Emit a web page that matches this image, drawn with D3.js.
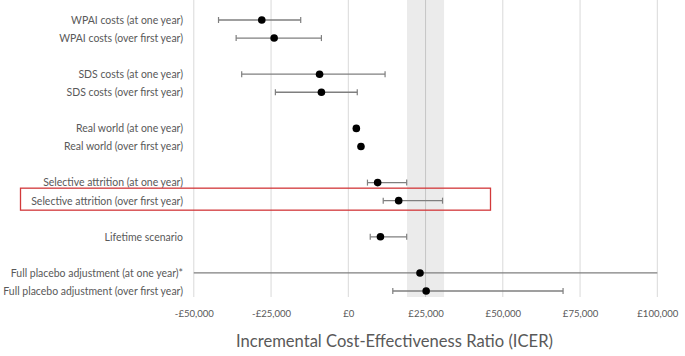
<!DOCTYPE html>
<html><head><meta charset="utf-8">
<script src="https://cdn.jsdelivr.net/npm/d3@7"></script>
<style>html,body{margin:0;padding:0;background:#fff;}svg{display:block;}</style>
</head><body>
<svg id="c" width="685" height="356"></svg>
<script>
// ---- data ----
const categories = [
  "WPAI costs (at one year)", "WPAI costs (over first year)",
  "SDS costs (at one year)", "SDS costs (over first year)",
  "Real world (at one year)", "Real world (over first year)",
  "Selective attrition (at one year)", "Selective attrition (over first year)",
  "Lifetime scenario",
  "Full placebo adjustment (at one year)*", "Full placebo adjustment (over first year)"
];
const groupSizes = [2, 2, 2, 2, 1, 2];
const icer  = [-28000, -24000, -9300, -8700, 2600, 4100, 9500, 16300, 10400, 23200, 25200];
const lower = [-42000, -36300, -34500, -23600, 1900, 3500, 6200, 11300, 7100, -60000, 14400];
const upper = [-15400, -8700, 11900, 2900, 3300, 4700, 18900, 30500, 18900, 110000, 69500];
const xTicks = [-50000, -25000, 0, 25000, 50000, 75000, 100000];
const thresholdBand = [19000, 31000];
const highlighted = "Selective attrition (over first year)";
const axisTitle = "Incremental Cost-Effectiveness Ratio (ICER)";

// ---- layout ----
const svg = d3.select("#c");
const FONT = "Lato, 'Open Sans', sans-serif";
const textColor = "#595959";

// build slot domain with gaps between groups
const slots = [];
let k = 0;
groupSizes.forEach((n, gi) => {
  for (let i = 0; i < n; i++) slots.push(categories[k++]);
  if (gi < groupSizes.length - 1) slots.push("gap" + gi);
});

const x = d3.scaleLinear().domain([-50000, 100000]).range([193.8, 657.3]);
const y = d3.scalePoint().domain(slots).range([20, 291]);
const plotTop = 0, plotBottom = 297;

function fitSize(str, target, base) {
  const t = svg.append("text").attr("font-family", FONT).attr("font-size", base).text(str);
  const w = t.node().getComputedTextLength();
  t.remove();
  return base * target / w;
}
const labelSize = fitSize("WPAI costs (at one year)", 112, 12);
const tickSize = fitSize("-£50,000", 39, 11);
const titleSize = fitSize(axisTitle, 317, 18);

svg.append("defs").append("clipPath").attr("id", "clip")
  .append("rect").attr("x", x(-50000)).attr("y", 0).attr("width", x(100000) - x(-50000)).attr("height", 356);

// band
svg.append("rect")
  .attr("x", x(thresholdBand[0])).attr("width", x(thresholdBand[1]) - x(thresholdBand[0]))
  .attr("y", plotTop).attr("height", plotBottom - plotTop)
  .attr("fill", "#ebebeb");

// grid
svg.append("g").selectAll("line").data(xTicks).join("line")
  .attr("x1", d => x(d)).attr("x2", d => x(d))
  .attr("y1", plotTop).attr("y2", plotBottom)
  .attr("stroke", d => (d > thresholdBand[0] && d < thresholdBand[1]) ? "#c6c6c6" : "#d9d9d9")
  .attr("stroke-width", 1);

// x axis labels
const xAxis = d3.axisBottom(x).tickValues(xTicks).tickSize(0).tickPadding(0)
  .tickFormat(d => (d < 0 ? "-£" : "£") + d3.format(",")(Math.abs(d)));
const gx = svg.append("g").attr("transform", `translate(0,${plotBottom + 13})`).call(xAxis);
gx.select(".domain").remove();
gx.selectAll("text").attr("font-family", FONT).attr("font-size", tickSize).attr("fill", textColor);

// y labels
const yAxis = d3.axisLeft(y).tickValues(categories).tickSize(0).tickPadding(0);
const gy = svg.append("g").attr("transform", `translate(183,0)`).call(yAxis);
gy.select(".domain").remove();
gy.selectAll("text").attr("font-family", FONT).attr("font-size", labelSize).attr("fill", textColor);

// axis title
svg.append("text").attr("x", 394.5).attr("y", 347).attr("text-anchor", "middle")
  .attr("font-family", FONT).attr("font-size", titleSize).attr("fill", textColor).text(axisTitle);

// error bars
const rows = categories.map((c, i) => ({c, v: icer[i], lo: lower[i], hi: upper[i]}));
const eb = svg.append("g").attr("clip-path", "url(#clip)");
eb.selectAll("line.err").data(rows).join("line").attr("class", "err")
  .attr("x1", d => x(d.lo)).attr("x2", d => x(d.hi))
  .attr("y1", d => y(d.c)).attr("y2", d => y(d.c))
  .attr("stroke", "#7f7f7f").attr("stroke-width", 1.3);
const capRows = rows.filter(d => d.lo > -50000 && d.hi < 100000);
["lo", "hi"].forEach(key => {
  eb.selectAll("line.cap" + key).data(capRows).join("line").attr("class", "cap" + key)
    .attr("x1", d => x(d[key])).attr("x2", d => x(d[key]))
    .attr("y1", d => y(d.c) - 3).attr("y2", d => y(d.c) + 3)
    .attr("stroke", "#7f7f7f").attr("stroke-width", 1.2);
});

// points
svg.append("g").selectAll("circle").data(rows).join("circle")
  .attr("cx", d => x(d.v)).attr("cy", d => y(d.c)).attr("r", 3.8).attr("fill", "#000");

// highlight box
svg.append("rect")
  .attr("x", 20.5).attr("y", y(highlighted) - 12.5)
  .attr("width", 470).attr("height", 22)
  .attr("fill", "none").attr("stroke", "#d2393b").attr("stroke-width", 1.3);
</script>
</body></html>
